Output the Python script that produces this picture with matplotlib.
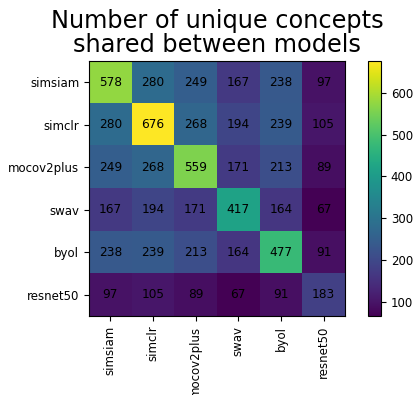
import numpy as np
import matplotlib.pyplot as plt

models = ["simsiam", "simclr", "mocov2plus", "swav", "byol", "resnet50"]
shared = np.array([
    [578, 280, 249, 167, 238, 97],
    [280, 676, 268, 194, 239, 105],
    [249, 268, 559, 171, 213, 89],
    [167, 194, 171, 417, 164, 67],
    [238, 239, 213, 164, 477, 91],
    [97, 105, 89, 67, 91, 183],
])

fig = plt.figure(figsize=(4.16, 3.95), dpi=100)
ax = fig.add_axes([0.214, 0.2, 0.615, 0.646])
cax = fig.add_axes([0.885, 0.2, 0.031, 0.646])

im = ax.imshow(shared, cmap="viridis", aspect="auto")
for i in range(len(models)):
    for j in range(len(models)):
        ax.text(j, i, str(shared[i, j]), ha="center", va="center", color="black", fontsize=8.7)

ax.set_xticks(range(len(models)))
ax.set_xticklabels(models, rotation=90, fontsize=8.5)
ax.set_yticks(range(len(models)))
ax.set_yticklabels(models, fontsize=8.5)
ax.set_title("Number of unique concepts\nshared between models", fontsize=17.3, linespacing=1.0, pad=6)

cb = fig.colorbar(im, cax=cax)
cb.ax.tick_params(labelsize=8.5)

fig.savefig("out.png", dpi=100)
